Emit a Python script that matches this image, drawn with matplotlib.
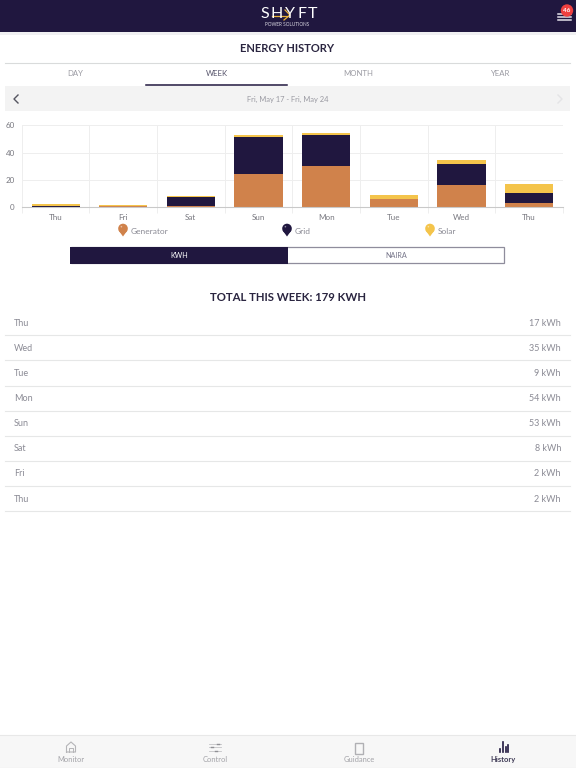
import matplotlib
matplotlib.use('Agg')
import matplotlib.pyplot as plt
from matplotlib.patches import Rectangle, Circle, Polygon
import numpy as np

plt.rcParams['font.family'] = ['Lato', 'DejaVu Sans']

days = ['Thu', 'Fri', 'Sat', 'Sun', 'Mon', 'Tue', 'Wed', 'Thu']
generator = [0.4, 0.6, 0.8, 24.4, 30.5, 5.9, 16.1, 3.4]
grid = [0.3, 0.5, 6.6, 27.3, 22.7, 0.0, 15.4, 7.3]
solar = [1.4, 0.5, 0.9, 1.0, 1.2, 2.9, 3.1, 6.6]
yticks = [0, 20, 40, 60]

series_names = ['Generator', 'Grid', 'Solar']
tabs = ['DAY', 'WEEK', 'MONTH', 'YEAR']
row_days = ['Thu', 'Wed', 'Tue', 'Mon', 'Sun', 'Sat', 'Fri', 'Thu']
row_kwh = [17, 35, 9, 54, 53, 8, 2, 2]
total_kwh = 179
nav_items = ['Monitor', 'Control', 'Guidance', 'History']

NAVY = '#20173f'
ORANGE = '#d0824b'
YELLOW = '#f4c44b'
GREY = '#8b8b95'


def pin(ax, x, y, color):
    ax.add_patch(Circle((x, y), 4.8, color=color, lw=0))
    ax.add_patch(Polygon([(x - 4.5, y + 1.8), (x + 4.5, y + 1.8), (x, y + 8)], color=color, lw=0))
    ax.add_patch(Circle((x - 1.6, y - 1.8), 0.8, color='white', alpha=0.5, lw=0))


fig = plt.figure(figsize=(5.76, 7.68), dpi=100)

# page furniture, in pixel coordinates
ui = fig.add_axes([0, 0, 1, 1])
ui.set_xlim(0, 576)
ui.set_ylim(768, 0)
ui.set_axis_off()

# header
ui.add_patch(Rectangle((0, 0), 576, 32, color=NAVY, lw=0))
ui.add_patch(Rectangle((0, 32), 576, 3, color='#f0f0f2', lw=0))
for x, letter in zip([264.5, 276.5, 290, 302, 313], 'SHYFT'):
    ui.text(x, 14, letter, color='white', fontsize=11.5, ha='center', va='center')
ui.plot([272, 288], [15.5, 15.5], color='#e9b23a', lw=0.9)
ui.plot([285, 290, 284], [10, 15, 20], color='#e9b23a', lw=0.9)
ui.text(287.5, 24.5, 'POWER SOLUTIONS', color='#d8d6e0', fontsize=3.4, ha='center', va='center')
for y in [14, 17, 20]:
    ui.plot([558, 571], [y, y], color='#e4e2ea', lw=1.1)
ui.add_patch(Circle((567, 10.5), 6.2, color='#ee3f3f', lw=0, zorder=4))
ui.text(567, 10.7, '46', color='white', fontsize=4.6, ha='center', va='center', zorder=5, fontweight='bold')

# title and tabs
ui.text(287.5, 49, 'ENERGY HISTORY', color='#2a2540', fontsize=8, fontweight='bold', ha='center', va='center')
ui.plot([5, 570], [62.5, 62.5], color='#d9dbdb', lw=0.8)
for i, tab in enumerate(tabs):
    ui.text(75 + i * 141.5, 73.5, tab, fontsize=5.6, ha='center', va='center',
            color='#55536a' if tab == 'WEEK' else '#9a9aa2')
ui.plot([146, 287], [85, 85], color=NAVY, lw=1.1)

# date band
ui.add_patch(Rectangle((5, 86), 565, 25, color='#f3f3f3', lw=0))
ui.plot([18, 14, 18], [95, 99, 103], color='#555560', lw=1)
ui.plot([558, 562, 558], [95, 99, 103], color='#e4e4e6', lw=1)
ui.text(287.5, 99, 'Fri, May 17 - Fri, May 24', fontsize=5.4, color='#9a9aa2', ha='center', va='center')

# legend under the chart
for x, color, name in zip([123, 287, 430], [ORANGE, NAVY, YELLOW], series_names):
    pin(ui, x, 228.5, color)
    ui.text(x + 7.5, 231, name, color=GREY, fontsize=6.0, va='center')

# unit toggle
ui.add_patch(Rectangle((70.5, 247), 433.5, 16, facecolor='white', edgecolor='#8f8d9c', lw=0.9))
ui.add_patch(Rectangle((70, 247), 218, 16.5, color=NAVY, lw=0))
ui.text(179, 255.5, 'KWH', color='white', fontsize=5.2, ha='center', va='center')
ui.text(396, 255.5, 'NAIRA', color='#77768a', fontsize=5.2, ha='center', va='center')

# totals table
ui.text(287.5, 297.5, 'TOTAL THIS WEEK: %d KWH' % total_kwh, color='#2a2540', fontsize=8.2,
        fontweight='bold', ha='center', va='center')
for i, (day, kwh) in enumerate(zip(row_days, row_kwh)):
    y = 323 + i * 25.15
    ui.text(14, y, day, color=GREY, fontsize=6.5, va='center')
    ui.text(561, y, '%d kWh' % kwh, color=GREY, fontsize=6.5, ha='right', va='center')
    ui.plot([5, 570], [y + 12.3, y + 12.3], color='#e6e7e7', lw=0.8)

# bottom navigation
ui.add_patch(Rectangle((0, 735), 576, 33, color='#f7f7f7', lw=0))
ui.plot([0, 576], [735, 735], color='#e8e8e8', lw=0.8)
ui.plot([0, 576], [767.5, 767.5], color='#e4e4e4', lw=0.8)
for i, item in enumerate(nav_items):
    active = item == 'History'
    ui.text(71 + i * 144, 759.5, item, fontsize=5.4, ha='center', va='center',
            color='#3e3a55' if active else '#a3a3a8', fontweight='bold' if active else 'normal')
ui.plot([66.5, 66.5, 71, 75.5, 75.5, 66.5], [752, 746, 742, 746, 752, 752], color='#b5b5b8', lw=0.8)
ui.plot([69, 69, 73, 73], [752, 748, 748, 752], color='#b5b5b8', lw=0.7)
for y, knob in zip([743.5, 747, 751], [218, 212, 216]):
    ui.plot([209, 221], [y, y], color='#c4c4c7', lw=0.6)
    ui.plot([knob - 1, knob + 1], [y, y], color='#8f8f94', lw=1)
ui.add_patch(Rectangle((355, 743), 8, 10.5, facecolor='none', edgecolor='#b0b0b4', lw=1))
for x, top in zip([499.5, 502.5, 505.5, 508], [749, 742, 747, 745]):
    ui.plot([x, x], [top, 752], color=NAVY, lw=1.2)

# the chart itself
ax = fig.add_axes([21.7 / 576, 1 - 207.3 / 768, 541.3 / 576, 82 / 768])
ax.patch.set_alpha(0)
x = np.arange(len(days))
generator = np.array(generator)
grid = np.array(grid)
solar = np.array(solar)
ax.bar(x, generator, width=0.71, color=ORANGE, lw=0, zorder=3)
ax.bar(x, grid, width=0.71, bottom=generator, color=NAVY, lw=0, zorder=3)
ax.bar(x, solar, width=0.71, bottom=generator + grid, color=YELLOW, lw=0, zorder=3)

ax.set_xlim(-0.5, 7.5)
ax.set_ylim(0, 60)
ax.set_yticks(yticks)
ax.set_xticks(np.arange(-0.5, 8), minor=True)
ax.set_xticks(x)
ax.set_xticklabels(days)
ax.grid(True, axis='y', color='#eeeeee', lw=0.7)
ax.grid(True, axis='x', which='minor', color='#eeeeee', lw=0.7)
ax.tick_params(axis='x', which='major', length=0, labelsize=5.8, labelcolor='#77777f', pad=4.5)
ax.tick_params(axis='x', which='minor', length=4.3, color='#eeeeee', width=0.7)
ax.tick_params(axis='y', length=0, labelsize=5.8, labelcolor='#77777f', pad=5)
for side in ['top', 'right', 'left']:
    ax.spines[side].set_visible(False)
ax.spines['bottom'].set_color('#c9c9c9')
ax.spines['bottom'].set_linewidth(0.8)
ax.spines['bottom'].set_zorder(4)

fig.savefig('out.png', dpi=100)
